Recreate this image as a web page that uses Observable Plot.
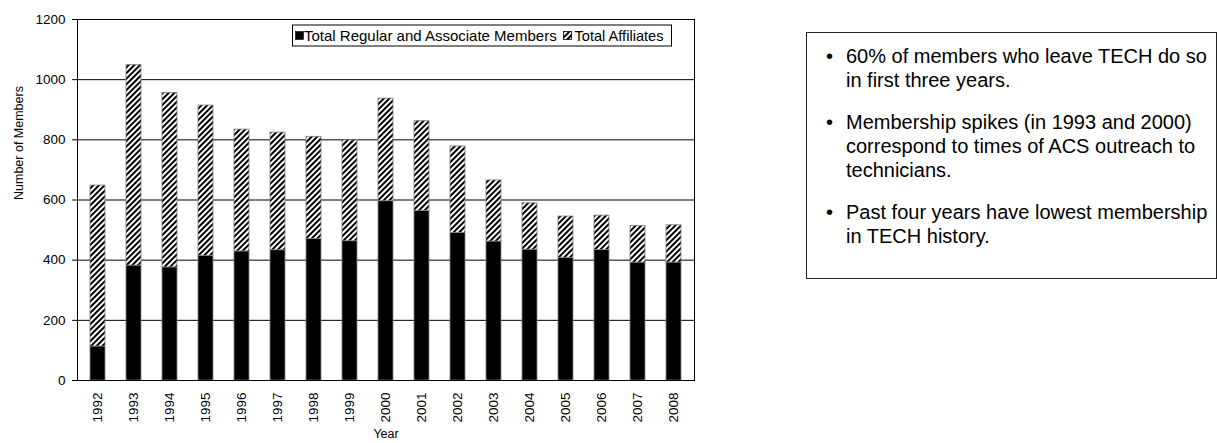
<!DOCTYPE html>
<html>
<head>
<meta charset="utf-8">
<script src="https://cdn.jsdelivr.net/npm/d3@7"></script>
<script src="https://cdn.jsdelivr.net/npm/@observablehq/plot@0.6"></script>
<style>
  body { margin: 0; background: #fff; font-family: Arial, "Liberation Sans", sans-serif; }
  #wrap { position: relative; width: 1217px; height: 443px; overflow: hidden; }
  #chart { position: absolute; left: 0; top: 0; }
  #notes { position: absolute; left: 806px; top: 32px; width: 411px; height: 247px;
           border: 1.5px solid #222; box-sizing: border-box; padding-top: 11px; color: #000; }
  #notes ul { margin: 0; padding: 0; list-style: none; }
  #notes li { position: relative; padding-left: 39px; padding-right: 4px; font-size: 20px; line-height: 24px; margin-bottom: 18px; }
  #notes li::before { content: "\2022"; position: absolute; left: 19px; top: 0; }
</style>
</head>
<body>
<div id="wrap">
  <div id="chart"></div>
  <div id="notes">
    <ul id="noteList"></ul>
  </div>
</div>
<script>
const years = ["1992","1993","1994","1995","1996","1997","1998","1999","2000","2001","2002","2003","2004","2005","2006","2007","2008"];
const regularMembers = [113, 382, 376, 414, 429, 433, 470, 463, 596, 564, 490, 462, 435, 408, 434, 392, 392];
const affiliates = [535, 667, 580, 500, 405, 391, 340, 335, 341, 298, 288, 203, 154, 137, 114, 122, 124];
const seriesNames = ["Total Regular and Associate Members", "Total Affiliates"];
const yTicks = [0, 200, 400, 600, 800, 1000, 1200];
const gridValues = [200, 400, 600, 800, 1000];
const notes = [
  "60% of members who leave TECH do so in first three years.",
  "Membership spikes (in 1993 and 2000) correspond to times of ACS outreach to technicians.",
  "Past four years have lowest membership in TECH history."
];

const rows = [];
years.forEach((yr, i) => {
  rows.push({year: yr, series: seriesNames[0], value: regularMembers[i]});
  rows.push({year: yr, series: seriesNames[1], value: affiliates[i]});
});

const font = "Arial, 'Liberation Sans', sans-serif";
const chart = Plot.plot({
  width: 700, height: 443,
  marginLeft: 77, marginRight: 6, marginTop: 19, marginBottom: 63,
  style: {fontFamily: font, fontSize: "13.5px", color: "#000", background: "#fff", overflow: "visible"},
  x: {domain: years, paddingInner: 0.587, paddingOuter: 0.284, label: null},
  y: {domain: [0, 1200], label: null},
  color: {domain: seriesNames, range: ["#000", "url(#hatch)"]},
  marks: [
    Plot.ruleY(gridValues, {stroke: "#000", strokeWidth: 1}),
    Plot.barY(rows, {x: "year", y: "value", fill: "series", stroke: "#7f7f7f", strokeWidth: 0.8}),
    Plot.frame({stroke: "#000", strokeWidth: 1}),
    Plot.axisY({ticks: yTicks, tickFormat: d3.format("d"), tickSize: 5, tickPadding: 7, label: null, fontSize: 13.5}),
    Plot.axisX({tickSize: 0, tickRotate: -90, tickPadding: 12, label: null, fontSize: 13.5}),
    Plot.text(["Year"], {frameAnchor: "bottom", dy: 57, fontSize: 12.5, fill: "#000"}),
    Plot.text(["Number of Members"], {frameAnchor: "left", dx: -59, rotate: -90, fontSize: 12.5, fill: "#000"})
  ]
});
document.getElementById("chart").appendChild(chart);

const svg = d3.select(chart);
const defs = svg.insert("defs", ":first-child");
const pat = defs.append("pattern").attr("id", "hatch").attr("patternUnits", "userSpaceOnUse")
  .attr("width", 4).attr("height", 4).attr("patternTransform", "rotate(45)");
pat.append("rect").attr("width", 4).attr("height", 4).attr("fill", "#fff");
pat.append("rect").attr("width", 2).attr("height", 4).attr("fill", "#000");

// legend
const lg = svg.append("g").attr("font-family", font).attr("font-size", 15).attr("text-anchor", "start");
lg.append("rect").attr("x", 292.5).attr("y", 25).attr("width", 379).attr("height", 21)
  .attr("fill", "#fff").attr("stroke", "#000").attr("stroke-width", 1);
lg.append("rect").attr("x", 295.5).attr("y", 31.5).attr("width", 8).attr("height", 8)
  .attr("fill", "#000").attr("stroke", "#000").attr("stroke-width", 0.6);
lg.append("text").attr("x", 304).attr("y", 41).attr("fill", "#000").attr("text-anchor", "start").text(seriesNames[0]);
lg.append("rect").attr("x", 563.5).attr("y", 31.5).attr("width", 8).attr("height", 8)
  .attr("fill", "url(#hatch)").attr("stroke", "#000").attr("stroke-width", 0.8);
lg.append("text").attr("x", 574.5).attr("y", 41).attr("fill", "#000").attr("text-anchor", "start").attr("font-size", 14.6).text(seriesNames[1]);

const ul = document.getElementById("noteList");
notes.forEach(n => { const li = document.createElement("li"); li.textContent = n; ul.appendChild(li); });
</script>
</body>
</html>
